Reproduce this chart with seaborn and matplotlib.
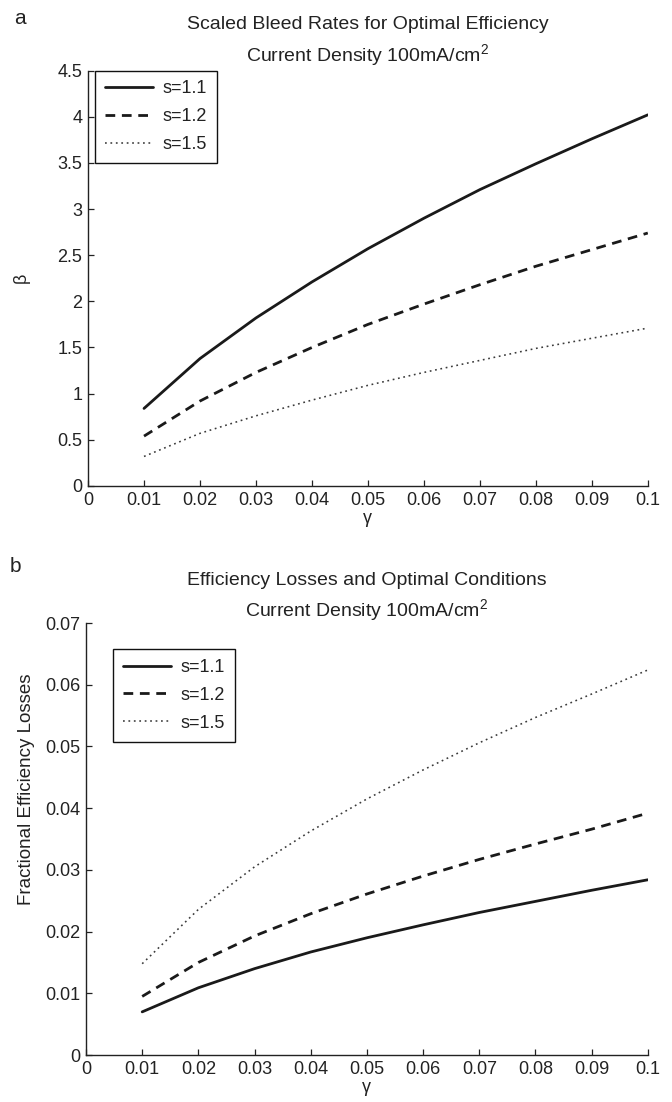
import numpy as np
import pandas as pd
import matplotlib
matplotlib.use("Agg")
import matplotlib.pyplot as plt
import seaborn as sns

# gamma values
gamma = [0.01, 0.02, 0.03, 0.04, 0.05, 0.06, 0.07, 0.08, 0.09, 0.1]
s_labels = ["s=1.1", "s=1.2", "s=1.5"]

# panel a: scaled bleed rates beta
beta_s11 = [0.84, 1.38, 1.82, 2.21, 2.57, 2.90, 3.21, 3.49, 3.76, 4.02]
beta_s12 = [0.54, 0.92, 1.23, 1.50, 1.75, 1.97, 2.18, 2.38, 2.56, 2.74]
beta_s15 = [0.32, 0.57, 0.76, 0.93, 1.09, 1.23, 1.36, 1.49, 1.60, 1.71]

# panel b: fractional efficiency losses
loss_s11 = [0.0070, 0.0109, 0.0140, 0.0167, 0.0190, 0.0211, 0.0231, 0.0249, 0.0267, 0.0284]
loss_s12 = [0.0095, 0.0150, 0.0193, 0.0229, 0.0261, 0.0290, 0.0317, 0.0342, 0.0366, 0.0392]
loss_s15 = [0.0148, 0.0236, 0.0305, 0.0363, 0.0415, 0.0462, 0.0506, 0.0547, 0.0585, 0.0624]

x_ticks = [0, 0.01, 0.02, 0.03, 0.04, 0.05, 0.06, 0.07, 0.08, 0.09, 0.1]
x_ticklabels = ["0", "0.01", "0.02", "0.03", "0.04", "0.05", "0.06", "0.07", "0.08", "0.09", "0.1"]
beta_ticks = [0, 0.5, 1, 1.5, 2, 2.5, 3, 3.5, 4, 4.5]
beta_ticklabels = ["0", "0.5", "1", "1.5", "2", "2.5", "3", "3.5", "4", "4.5"]
loss_ticks = [0, 0.01, 0.02, 0.03, 0.04, 0.05, 0.06, 0.07]
loss_ticklabels = ["0", "0.01", "0.02", "0.03", "0.04", "0.05", "0.06", "0.07"]

sns.set_style("ticks")
plt.rcParams["font.family"] = ["Liberation Sans", "DejaVu Sans"]
plt.rcParams["mathtext.default"] = "regular"
plt.rcParams["xtick.direction"] = "in"
plt.rcParams["ytick.direction"] = "in"

ink = "#222222"
styles = [
    dict(color="#1a1a1a", lw=2.0, linestyle="-"),
    dict(color="#1a1a1a", lw=2.0, linestyle=(0, (3.5, 2.4))),
    dict(color="#3a3a3a", lw=1.15, linestyle=(0, (1.1, 2.3))),
]


def draw_panel(ax, series, yticks, yticklabels, ylim):
    for vals, lab, st in zip(series, s_labels, styles):
        df = pd.DataFrame({"gamma": gamma, "val": vals})
        sns.lineplot(data=df, x="gamma", y="val", ax=ax, label=lab, **st)
    ax.set_xlim(0, 0.1)
    ax.set_ylim(*ylim)
    ax.set_xticks(x_ticks)
    ax.set_xticklabels(x_ticklabels)
    ax.set_yticks(yticks)
    ax.set_yticklabels(yticklabels)
    for sp in ["top", "right"]:
        ax.spines[sp].set_visible(False)
    for sp in ["left", "bottom"]:
        ax.spines[sp].set_color(ink)
        ax.spines[sp].set_linewidth(1.0)
    ax.tick_params(labelsize=13, length=4, width=0.9, color=ink, labelcolor=ink, pad=4)
    ax.set_xlabel("γ", fontsize=13, color=ink, labelpad=1)


def style_legend(ax, anchor):
    leg = ax.legend(loc="upper left", bbox_to_anchor=anchor, borderaxespad=0,
                    fancybox=False, edgecolor="#111111", fontsize=13, handlelength=2.65,
                    labelspacing=0.6, borderpad=0.55, handletextpad=0.55)
    leg.get_frame().set_linewidth(1.0)
    leg.get_frame().set_alpha(1)
    for t in leg.get_texts():
        t.set_color(ink)
    return leg


fig = plt.figure(figsize=(6.72, 11.02), dpi=100)

ax1 = fig.add_axes([0.131, 0.559, 0.833, 0.377])
draw_panel(ax1, [beta_s11, beta_s12, beta_s15], beta_ticks, beta_ticklabels, (0, 4.5))
ax1.set_ylabel("β", fontsize=13, color=ink, labelpad=20)
ax1.set_title("Scaled Bleed Rates for Optimal Efficiency\nCurrent Density 100mA/cm$^2$",
              fontsize=14, color=ink, pad=7, linespacing=1.45)
style_legend(ax1, (0.012, 1.0))

ax2 = fig.add_axes([0.128, 0.0426, 0.836, 0.392])
draw_panel(ax2, [loss_s11, loss_s12, loss_s15], loss_ticks, loss_ticklabels, (0, 0.07))
ax2.set_ylabel("Fractional Efficiency Losses", fontsize=13.5, color=ink)
ax2.yaxis.set_label_coords(-0.09, 0.615)
ax2.set_title("Efficiency Losses and Optimal Conditions\nCurrent Density 100mA/cm$^2$",
              fontsize=14, color=ink, pad=1, linespacing=1.45)
style_legend(ax2, (0.048, 0.94))

fig.text(14 / 672, 1 - 18 / 1102, "a", fontsize=15, color=ink, va="center", ha="left")
fig.text(10 / 672, 1 - 566 / 1102, "b", fontsize=15, color=ink, va="center", ha="left")

fig.savefig("out.png", dpi=100)
